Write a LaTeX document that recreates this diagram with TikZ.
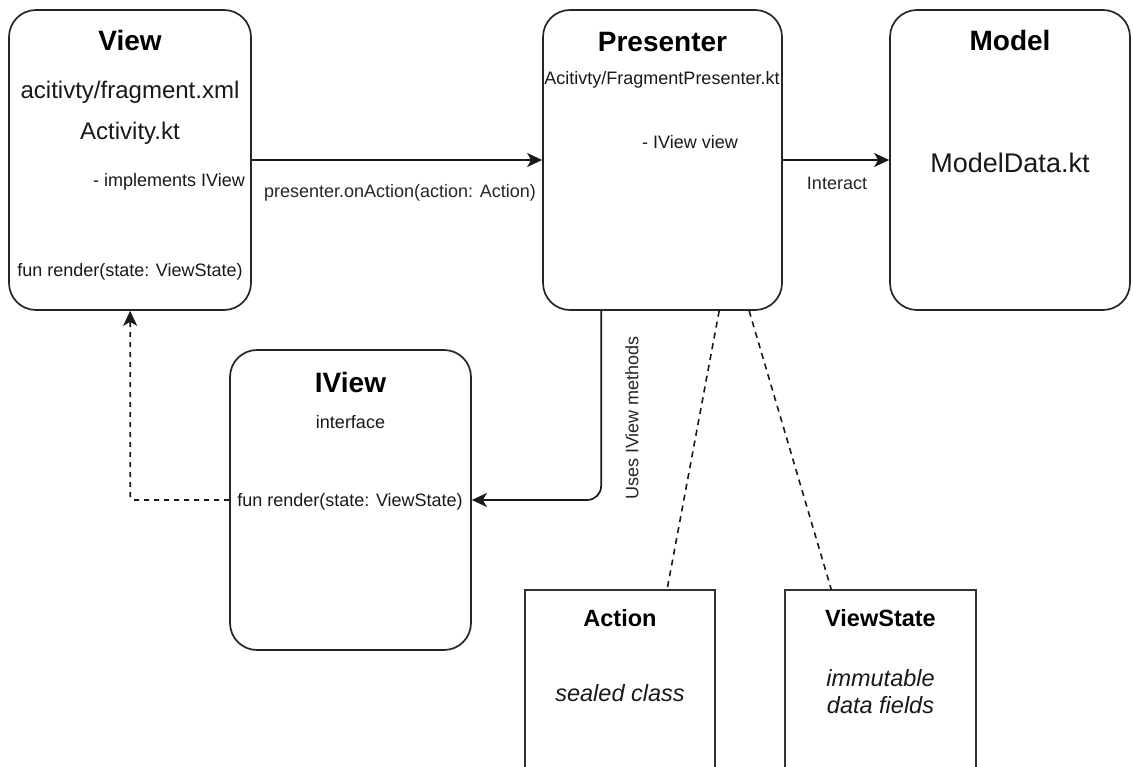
\documentclass[tikz,border=0pt]{standalone}
\usepackage{fontspec}
\setmainfont{Liberation Sans}
\usetikzlibrary{arrows.meta,calc}

\newcommand{\fs}[2]{\fontsize{#1}{#2}\selectfont}

\tikzset{
  x=1pt, y=-1pt,
  rbox/.style={draw=black!85, line width=1.7pt, rounded corners=27pt, inner sep=0pt,
               minimum width=#1, minimum height=300pt},
  sbox/.style={draw=black!80, line width=1.7pt, inner sep=0pt,
               minimum width=#1, minimum height=300pt},
  ttl/.style={font=\fs{28}{34}\bfseries, inner sep=0pt},
  sttl/.style={font=\fs{23.5}{28}\bfseries, inner sep=0pt},
  txt/.style={font=\fs{18}{22}, inner sep=0pt, text=black!90},
  lbl/.style={font=\fs{18}{22}, inner sep=0pt, text=black!85},
  flow/.style={line width=1.7pt, draw=black!90, -{Stealth[length=15pt,width=14pt,inset=4pt]}},
  implflow/.style={flow, dash pattern=on 5pt off 5pt, rounded corners=4pt},
  assoc/.style={line width=1.6pt, draw=black!90, dash pattern=on 6pt off 5pt},
}

\begin{document}
\begin{tikzpicture}
\useasboundingbox (0,0) rectangle (1133,767);
\clip (0,0) rectangle (1133,767);
\fill[white] (0,0) rectangle (1133,767);

% main boxes
\node[rbox=242pt] (view) at (130,160) {};
\node[rbox=239pt] (presenter) at (662.5,160) {};
\node[rbox=240pt] (model) at (1010,160) {};
\node[rbox=241pt] (iview) at (350.5,500) {};
\node[sbox=190pt] (action) at (620,740) {};
\node[sbox=191pt] (viewstate) at (880.5,740) {};

% View contents
\node[ttl] (viewT) at (130,40) {View};
\node[txt, font=\fs{24}{28}] (viewXml) at (130,92) {acitivty/fragment.xml};
\node[txt, font=\fs{24}{28}] (viewKt) at (130,133) {Activity.kt};
\node[txt, anchor=east] (viewImpl) at (245,182) {- implements IView};
\node[txt] (viewRender) at (130,272) {fun render(state: ViewState)};

% Presenter contents
\node[ttl] (presT) at (662.5,42) {Presenter};
\node[txt] (presKt) at (662,80) {Acitivty/FragmentPresenter.kt};
\node[txt, anchor=west] (presView) at (642,142) {- IView view};

% Model contents
\node[ttl] (modelT) at (1010,40) {Model};
\node[txt, font=\fs{27}{32}] (modelKt) at (1010,163) {ModelData.kt};

% IView contents
\node[ttl] (iviewT) at (350.5,382) {IView};
\node[txt] (iviewIf) at (350.5,422) {interface};
\node[txt] (iviewRender) at (350,502) {fun render(state: ViewState)};

% Action / ViewState contents
\node[sttl] (actionT) at (620,618) {Action};
\node[txt, font=\fs{23.5}{27}\itshape] (actionS) at (620,693) {sealed class};
\node[sttl] (vsT) at (880.5,618) {ViewState};
\node[txt, font=\fs{23.5}{27}\itshape, align=center] (vsS) at (880.5,692) {immutable\\data fields};

% connectors
\draw[flow] (view.east) -- (presenter.west);
\node[lbl] (onAction) at (400,193) {presenter.onAction(action: Action)};

\draw[flow] (presenter.east) -- (model.west);
\node[lbl] (interact) at (837,183) {Interact};

\draw[flow, rounded corners=14pt] ([xshift=59pt]presenter.south west) |- (iview.east);
\node[lbl, rotate=90] (uses) at (632,418) {Uses IView methods};

\draw[implflow] (iview.west) -| ([xshift=122pt]view.south west);

\draw[assoc] ([xshift=177pt]presenter.south west) -- ([xshift=143pt]action.north west);
\draw[assoc] ([xshift=207pt]presenter.south west) -- ([xshift=47pt]viewstate.north west);
\end{tikzpicture}
\end{document}
